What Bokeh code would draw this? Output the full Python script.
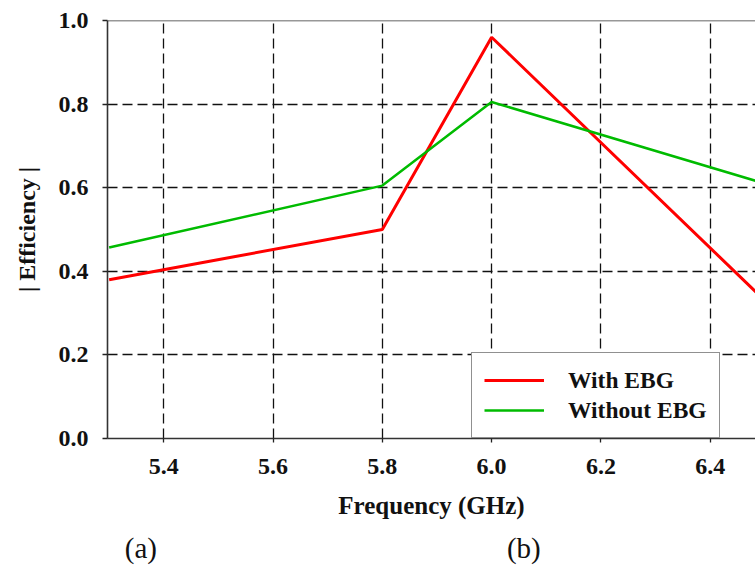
from bokeh.plotting import figure
from bokeh.models import Range1d, FixedTicker, Span, Legend, LegendItem, NumeralTickFormatter, ColumnDataSource
from bokeh.layouts import column
from bokeh.core.properties import value
from bokeh.embed import file_html
from bokeh.resources import INLINE

freq_with = [5.3, 5.8, 6.0, 6.5]
eff_with = [0.38, 0.50, 0.96, 0.33]
freq_without = [5.3, 5.8, 6.0, 6.5]
eff_without = [0.457, 0.605, 0.805, 0.61]
x_ticks = [5.4, 5.6, 5.8, 6.0, 6.2, 6.4]
y_ticks = [0.0, 0.2, 0.4, 0.6, 0.8, 1.0]
panel_labels = ["(a)", "(b)"]
panel_label_x = [5.358, 6.059]

FONT = "Liberation Serif"

xr = Range1d(5.297, 6.483)
p = figure(width=755, height=530, output_backend="svg", toolbar_location=None,
           x_range=xr, y_range=Range1d(0.0, 1.0),
           min_border_left=107, min_border_right=0, min_border_top=20, min_border_bottom=92)
p.outline_line_color = None
p.background_fill_color = "white"
p.border_fill_color = "white"

# top border
p.add_layout(Span(location=1.0, dimension="width", line_color="#333333", line_width=1.6))

r1 = p.line(freq_with, eff_with, line_color="#ff0000", line_width=3)
r2 = p.line(freq_without, eff_without, line_color="#00bb00", line_width=2.5)

for ax in (p.xaxis[0], p.yaxis[0]):
    ax.axis_line_color = "#333333"
    ax.axis_line_width = 1.6
    ax.major_tick_line_color = "#222222"
    ax.major_tick_line_width = 1.3
    ax.minor_tick_line_color = None
    ax.major_label_text_font = FONT
    ax.major_label_text_font_style = "bold"
    ax.major_label_text_font_size = "24px"
    ax.major_label_text_color = "#111111"
    ax.axis_label_text_font = FONT
    ax.axis_label_text_font_style = "bold"
    ax.axis_label_text_color = "#111111"
    ax.formatter = NumeralTickFormatter(format="0.0")

p.xaxis.ticker = FixedTicker(ticks=x_ticks)
p.yaxis.ticker = FixedTicker(ticks=y_ticks)
p.xaxis.major_tick_in = 0
p.xaxis.major_tick_out = 4
p.xaxis.major_label_standoff = 16
p.yaxis.major_tick_in = 0
p.yaxis.major_tick_out = 5
p.yaxis.major_label_standoff = 14
p.xaxis.axis_label = "Frequency (GHz)"
p.xaxis.axis_label_text_font_size = "25px"
p.xaxis.axis_label_standoff = 15
p.yaxis.axis_label = "| Efficiency |"
p.yaxis.axis_label_text_font_size = "24px"
p.yaxis.axis_label_standoff = 16

for g in (p.xgrid[0], p.ygrid[0]):
    g.grid_line_color = "#111111"
    g.grid_line_width = 1.3
    g.grid_line_dash = "10 5"
p.ygrid.ticker = FixedTicker(ticks=[0.2, 0.4, 0.6, 0.8])
p.xgrid.ticker = FixedTicker(ticks=x_ticks)

legend = Legend(items=[LegendItem(label="With EBG", renderers=[r1]),
                       LegendItem(label="Without EBG", renderers=[r2])],
                location=(364, 0))
legend.border_line_color = "#222222"
legend.border_line_width = 1.3
legend.background_fill_alpha = 1.0
legend.label_text_font = FONT
legend.label_text_font_style = "bold"
legend.label_text_font_size = "23.5px"
legend.label_text_color = "#111111"
legend.glyph_width = 60
legend.glyph_height = 30
legend.label_height = 30
legend.label_standoff = 24
legend.spacing = 0
legend.padding = 12
legend.margin = 0
p.add_layout(legend)

# strip below for panel labels
p2 = figure(width=755, height=35, output_backend="svg", toolbar_location=None,
            x_range=xr, y_range=Range1d(0, 1),
            min_border_left=107, min_border_right=0, min_border_top=0, min_border_bottom=0)
p2.axis.visible = False
p2.grid.visible = False
p2.outline_line_color = None
src = ColumnDataSource(dict(x=panel_label_x, y=[0.5] * len(panel_labels), t=panel_labels))
p2.text(x="x", y="y", text="t", source=src, text_font=value(FONT), text_font_size="29px",
        text_align="center", text_baseline="middle", text_color="#111111")

layout = column(p, p2, spacing=0)
open("out.html", "w").write(file_html(layout, INLINE))
